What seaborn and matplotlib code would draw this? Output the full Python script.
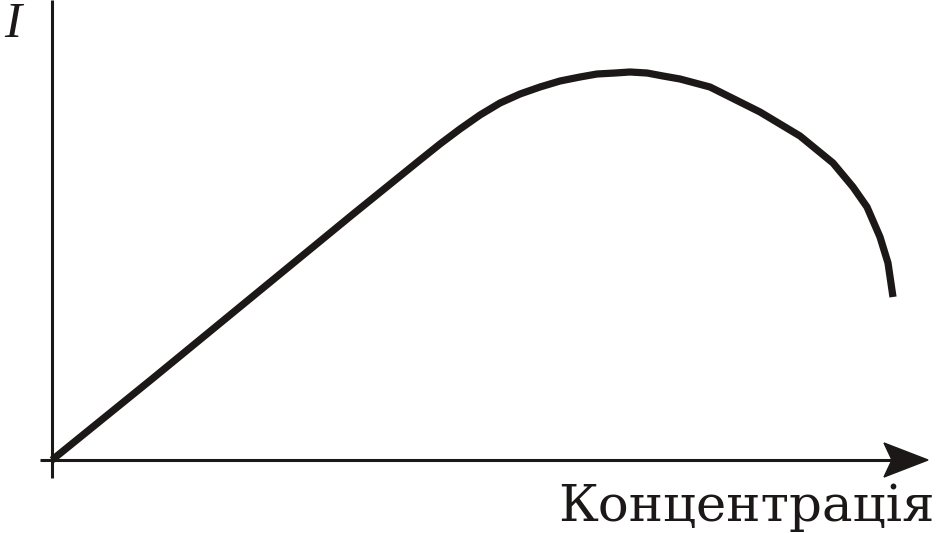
import matplotlib
matplotlib.use("Agg")
import matplotlib.pyplot as plt
from matplotlib.patches import Polygon
import seaborn as sns
import pandas as pd

# Data (concentration vs intensity), arbitrary units
concentration = [0, 100, 200, 300, 368, 388, 408, 428, 448, 468, 488, 508,
                 528, 545, 563, 578, 595, 611, 628, 658, 708, 748, 781,
                 801, 815, 828, 836, 841]
intensity = [0, 81, 163, 245, 300, 316, 331, 345, 357, 366, 373, 379,
             383, 386, 387, 388, 387, 384, 381, 373, 348, 324, 297,
             273, 253, 223, 197, 163]
x_label = "Концентрація"
y_label = "I"

df = pd.DataFrame({"c": concentration, "i": intensity})

sns.set_style("white")
plt.rcParams["font.family"] = ["DejaVu Serif", "Liberation Serif"]

ink = "#1c1818"
fig = plt.figure(figsize=(9.38, 5.33), dpi=100)
ax = fig.add_axes([0, 0, 1, 1])
ax.set_xlim(-52, 886)
ax.set_ylim(-73, 460)
ax.axis("off")

# axes lines
ax.plot([0, 0], [-18, 460], color=ink, lw=2.2, solid_capstyle="butt")
ax.plot([-12, 840], [0, 0], color=ink, lw=2.2, solid_capstyle="butt")
head = Polygon([(876, 0), (832, 17), (840, 0), (832, -17)], closed=True,
               facecolor=ink, edgecolor=ink, lw=1)
ax.add_patch(head)

sns.lineplot(data=df, x="c", y="i", ax=ax, color=ink, lw=5.2,
             sort=False, estimator=None)
for l in ax.lines[-1:]:
    l.set_solid_capstyle("butt")
    l.set_solid_joinstyle("round")

ax.text(-52 + 4, 460 - 37, y_label, fontsize=37, style="italic",
        family=["Liberation Serif"], color=ink, ha="left", va="baseline")
ax.text(886 - 3, 460 - 521, x_label, fontsize=37, color=ink,
        ha="right", va="baseline")

fig.savefig("out.png", dpi=100)
